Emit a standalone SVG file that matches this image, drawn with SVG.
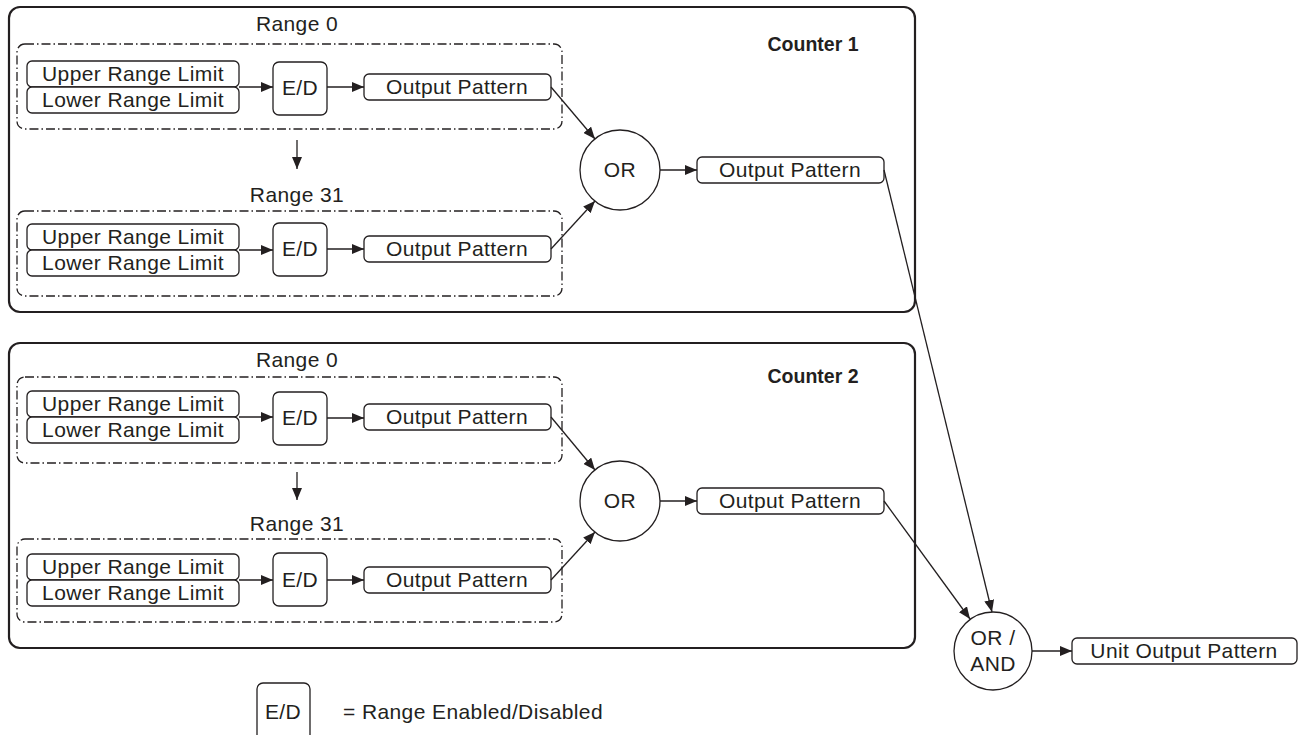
<svg xmlns="http://www.w3.org/2000/svg" width="1298" height="735" viewBox="0 0 1298 735">
<style>
text{font-family:"Liberation Sans",Arial,sans-serif;font-size:21px;letter-spacing:0.4px;fill:#231f20;text-anchor:middle}
.bold{font-weight:bold;font-size:19.5px;letter-spacing:0}
.leg{text-anchor:start}
.counter{fill:none;stroke:#231f20;stroke-width:2.2}
.range{fill:none;stroke:#231f20;stroke-width:1.3;stroke-dasharray:9 3 1.5 3}
.box{fill:#fff;stroke:#231f20;stroke-width:1.3}
.con{fill:none;stroke:#231f20;stroke-width:1.3;marker-end:url(#ah)}
</style>
<defs>
<marker id="ah" viewBox="0 0 12 10" refX="12" refY="5" markerWidth="12" markerHeight="10" markerUnits="userSpaceOnUse" orient="auto">
<path d="M0,0 L12,5 L0,10 Z" fill="#231f20"/>
</marker>
</defs>
<rect width="1298" height="735" fill="#fff"/>

<g id="counter1">
<rect class="counter" x="9" y="7" width="906" height="305" rx="11"/>
<text class="bold" x="813" y="51">Counter 1</text>
<g id="c1-range0">
<rect class="range" x="17" y="44" width="545" height="85" rx="8"/>
<text x="297" y="31">Range 0</text>
<rect class="box" x="27" y="61" width="212" height="26" rx="5"/><text x="133" y="81">Upper Range Limit</text>
<rect class="box" x="27" y="87" width="212" height="26" rx="5"/><text x="133" y="107">Lower Range Limit</text>
<rect class="box" x="273" y="62" width="54" height="53" rx="6"/><text x="300" y="95">E/D</text>
<rect class="box" x="364" y="74" width="187" height="26" rx="5"/><text x="457" y="94">Output Pattern</text>
</g>
<g id="c1-range31">
<rect class="range" x="17" y="211" width="545" height="85" rx="8"/>
<text x="297" y="202">Range 31</text>
<rect class="box" x="27" y="224" width="212" height="26" rx="5"/><text x="133" y="244">Upper Range Limit</text>
<rect class="box" x="27" y="250" width="212" height="26" rx="5"/><text x="133" y="270">Lower Range Limit</text>
<rect class="box" x="273" y="223" width="54" height="53" rx="6"/><text x="300" y="256">E/D</text>
<rect class="box" x="364" y="236" width="187" height="26" rx="5"/><text x="457" y="256">Output Pattern</text>
</g>
<g id="c1-or">
<circle class="box" cx="620" cy="170" r="40"/><text x="620" y="177">OR</text>
</g>
<g id="c1-out">
<rect class="box" x="697" y="157" width="187" height="26" rx="5"/><text x="790" y="177">Output Pattern</text>
</g>
</g>

<g id="counter2">
<rect class="counter" x="9" y="343" width="906" height="305" rx="11"/>
<text class="bold" x="813" y="383">Counter 2</text>
<g id="c2-range0">
<rect class="range" x="17" y="377" width="545" height="86" rx="8"/>
<text x="297" y="367">Range 0</text>
<rect class="box" x="27" y="391" width="212" height="26" rx="5"/><text x="133" y="411">Upper Range Limit</text>
<rect class="box" x="27" y="417" width="212" height="26" rx="5"/><text x="133" y="437">Lower Range Limit</text>
<rect class="box" x="273" y="392" width="54" height="53" rx="6"/><text x="300" y="425">E/D</text>
<rect class="box" x="364" y="404" width="187" height="26" rx="5"/><text x="457" y="424">Output Pattern</text>
</g>
<g id="c2-range31">
<rect class="range" x="17" y="539" width="545" height="83" rx="8"/>
<text x="297" y="531">Range 31</text>
<rect class="box" x="27" y="554" width="212" height="26" rx="5"/><text x="133" y="574">Upper Range Limit</text>
<rect class="box" x="27" y="580" width="212" height="26" rx="5"/><text x="133" y="600">Lower Range Limit</text>
<rect class="box" x="273" y="553" width="54" height="53" rx="6"/><text x="300" y="587">E/D</text>
<rect class="box" x="364" y="567" width="187" height="26" rx="5"/><text x="457" y="587">Output Pattern</text>
</g>
<g id="c2-or">
<circle class="box" cx="620" cy="501" r="40"/><text x="620" y="508">OR</text>
</g>
<g id="c2-out">
<rect class="box" x="697" y="488" width="187" height="26" rx="5"/><text x="790" y="508">Output Pattern</text>
</g>
</g>

<g id="orand">
<circle class="box" cx="993" cy="651" r="39"/>
<text x="993" y="645">OR /</text>
<text x="993" y="671">AND</text>
</g>
<g id="unit-out">
<rect class="box" x="1072" y="638" width="225" height="26" rx="5"/>
<text x="1184" y="658">Unit Output Pattern</text>
</g>

<g id="legend">
<rect class="box" x="257" y="683" width="53" height="60" rx="6"/>
<text x="283" y="719">E/D</text>
<text class="leg" x="343" y="719">= Range Enabled/Disabled</text>
</g>

<g id="connectors">
<path class="con" d="M239,87 H273"/>
<path class="con" d="M327,87 H364"/>
<path class="con" d="M297,140 V169"/>
<path class="con" d="M239,250 H273"/>
<path class="con" d="M327,249 H364"/>
<path class="con" d="M551,87 L595,139"/>
<path class="con" d="M551,249 L595,201"/>
<path class="con" d="M660,170 H697"/>
<path class="con" d="M239,417 H273"/>
<path class="con" d="M327,418 H364"/>
<path class="con" d="M297,472 V500"/>
<path class="con" d="M239,580 H273"/>
<path class="con" d="M327,580 H364"/>
<path class="con" d="M551,417 L595,470"/>
<path class="con" d="M551,580 L595,532"/>
<path class="con" d="M660,501 H697"/>
<path class="con" d="M884,170 L992,612"/>
<path class="con" d="M884,501 L970,619"/>
<path class="con" d="M1032,651 H1072"/>
</g>
</svg>
